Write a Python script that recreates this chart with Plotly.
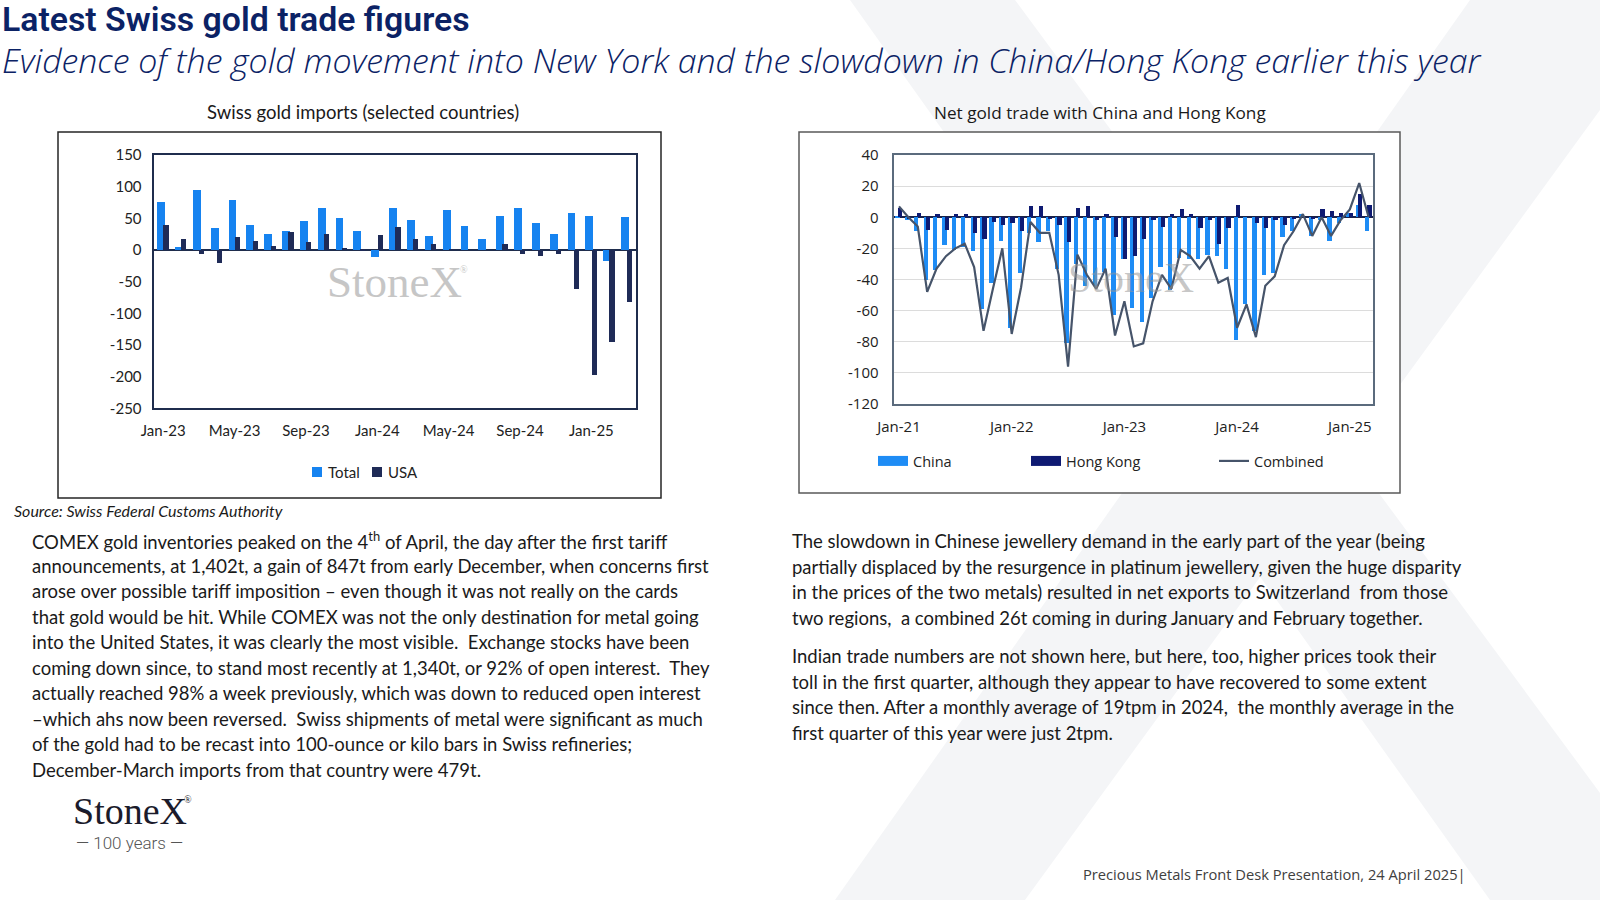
import plotly.graph_objects as go

# ---------------- data ----------------
left_months = ["Jan-23", "Feb-23", "Mar-23", "Apr-23", "May-23", "Jun-23", "Jul-23", "Aug-23", "Sep-23",
               "Oct-23", "Nov-23", "Dec-23", "Jan-24", "Feb-24", "Mar-24", "Apr-24", "May-24", "Jun-24",
               "Jul-24", "Aug-24", "Sep-24", "Oct-24", "Nov-24", "Dec-24", "Jan-25", "Feb-25", "Mar-25"]
total = [75, 5, 95, 34, 79, 39, 26, 30, 46, 67, 50, 30, -11, 66, 47, 22, 63, 38, 18, 54, 67, 42, 26, 59, 54, -17, 52]
usa = [40, 18, -7, -21, 20, 14, 6, 28, 13, 26, 2, -1, 24, 36, 18, 9, 1, 0, 0, 9, -6, -9, -6, -61, -197, -145, -82]
left_ticks = ["Jan-23", "May-23", "Sep-23", "Jan-24", "May-24", "Sep-24", "Jan-25"]
left_yvals = [150, 100, 50, 0, -50, -100, -150, -200, -250]
left_ylabels = ["150", "100", "50", "0", "-50", "-100", "-150", "-200", "-250"]

right_months = ["Jan-21", "Feb-21", "Mar-21", "Apr-21", "May-21", "Jun-21", "Jul-21", "Aug-21", "Sep-21", "Oct-21", "Nov-21", "Dec-21",
                "Jan-22", "Feb-22", "Mar-22", "Apr-22", "May-22", "Jun-22", "Jul-22", "Aug-22", "Sep-22", "Oct-22", "Nov-22", "Dec-22",
                "Jan-23", "Feb-23", "Mar-23", "Apr-23", "May-23", "Jun-23", "Jul-23", "Aug-23", "Sep-23", "Oct-23", "Nov-23", "Dec-23",
                "Jan-24", "Feb-24", "Mar-24", "Apr-24", "May-24", "Jun-24", "Jul-24", "Aug-24", "Sep-24", "Oct-24", "Nov-24", "Dec-24",
                "Jan-25", "Feb-25", "Mar-25"]
china = [1, -2, -9, -40, -34, -18, -21, -19, -22, -59, -42, -15,
         -71, -36, -10, -16, -9, -33, -81, -30, -44, -44, -35, -63,
         -27, -58, -67, -52, -32, -47, -26, -27, -27, -24, -25, -33,
         -79, -56, -73, -37, -36, -13, -9, 2, -12, -2, -15, -4,
         3, 8, -9]
hong_kong = [6, -1, 3, -8, 2, -8, 2, 2, -10, -14, -3, -5,
             -4, -9, 7, 7, -1, -5, -16, 6, 7, -2, 2, -13,
             -27, -25, -14, -2, -6, 2, 5, 2, -7, -2, -17, -7,
             8, 0, -4, -7, -2, -5, -1, 0, -1, 5, 4, 3,
             3, 15, 8]
combined = [7, 0, -6, -48, -33, -25, -20, -17, -32, -73, -46, -20,
            -75, -45, -3, -10, -10, -37, -96, -24, -37, -46, -33, -76,
            -54, -83, -81, -54, -37, -46, -21, -25, -33, -25, -42, -39,
            -71, -56, -77, -44, -38, -18, -9, 2, -12, 0, -12, -2,
            5, 22, 0]
right_ticks = ["Jan-21", "Jan-22", "Jan-23", "Jan-24", "Jan-25"]
right_yvals = [40, 20, 0, -20, -40, -60, -80, -100, -120]
right_ylabels = ["40", "20", "0", "-20", "-40", "-60", "-80", "-100", "-120"]

W, H = 1600, 900
def px(x): return x / W
def py(y): return 1 - y / H

NAVY = "#0b2265"
BODY = "Lato"
C_TOTAL, C_USA = "#1683f0", "#1f2b57"
C_CHINA, C_HK, C_COMB = "#1e8cf5", "#0e1a72", "#46546a"

fig = go.Figure()

# left chart
fig.add_trace(go.Bar(x=left_months, y=total, name="Total", marker_color=C_TOTAL, marker_line_width=0,
                     width=0.44, offset=-0.32, xaxis="x", yaxis="y", showlegend=False))
fig.add_trace(go.Bar(x=left_months, y=usa, name="USA", marker_color=C_USA, marker_line_width=0,
                     width=0.29, offset=0.03, xaxis="x", yaxis="y", showlegend=False))
# right chart
fig.add_trace(go.Bar(x=right_months, y=china, name="China", marker_color=C_CHINA, marker_line_width=0,
                     width=0.45, offset=-0.35, xaxis="x2", yaxis="y2", showlegend=False))
fig.add_trace(go.Bar(x=right_months, y=hong_kong, name="Hong Kong", marker_color=C_HK, marker_line_width=0,
                     width=0.45, offset=-0.10, xaxis="x2", yaxis="y2", showlegend=False))
fig.add_trace(go.Scatter(x=right_months, y=combined, name="Combined", mode="lines",
                         line=dict(color=C_COMB, width=2.2), xaxis="x2", yaxis="y2", legend="legend3"))
# legend swatches (wide rectangles as in the reference)
fig.add_trace(go.Scatter(x=[None], y=[None], name="China", mode="lines", line=dict(color=C_CHINA, width=10),
                         xaxis="x2", yaxis="y2", legend="legend"))
fig.add_trace(go.Scatter(x=[None], y=[None], name="Hong Kong", mode="lines", line=dict(color=C_HK, width=10),
                         xaxis="x2", yaxis="y2", legend="legend2"))

tickfont_l = dict(family=BODY, size=15, color="#222222")
tickfont_r = dict(family="Open Sans", size=15, color="#222222")

def leg(x, y, family, size):
    return dict(orientation="h", x=px(x), xanchor="left", y=py(y), yanchor="middle",
                font=dict(family=family, size=size, color="#222222"), bgcolor="rgba(0,0,0,0)",
                borderwidth=0, itemwidth=30)

fig.update_layout(
    width=W, height=H, margin=dict(l=0, r=0, t=0, b=0, pad=0, autoexpand=False),
    paper_bgcolor="white", plot_bgcolor="white",
    barmode="overlay", bargap=0,
    xaxis=dict(domain=[px(154.3), px(636)], anchor="y", type="category", range=[-0.5, 26.5], automargin=False,
               tickmode="array", tickvals=left_ticks, ticktext=left_ticks, tickfont=tickfont_l,
               showline=True, mirror=True, linecolor="#1f2d4d", linewidth=1.5, showgrid=False,
               ticks="", ticklabelstandoff=8),
    yaxis=dict(domain=[py(408.3), py(155)], anchor="x", range=[-250, 150], automargin=False,
               tickmode="array", tickvals=left_yvals, ticktext=left_ylabels, tickfont=tickfont_l,
               showline=True, mirror=True, linecolor="#1f2d4d", linewidth=1.5, showgrid=False,
               zeroline=True, zerolinecolor="#1f2d4d", zerolinewidth=1.5, ticks="", ticklabelstandoff=8),
    xaxis2=dict(domain=[px(894.3), px(1373.3)], anchor="y2", type="category", range=[-0.5, 50.5], automargin=False,
                tickmode="array", tickvals=right_ticks, ticktext=right_ticks, tickfont=tickfont_r,
                showline=True, mirror=True, linecolor="#5b6b7d", linewidth=1.5, showgrid=False,
                ticks="", ticklabelstandoff=8),
    yaxis2=dict(domain=[py(404), py(155)], anchor="x2", range=[-120, 40], automargin=False,
                tickmode="array", tickvals=right_yvals, ticktext=right_ylabels, tickfont=tickfont_r,
                showline=True, mirror=True, linecolor="#5b6b7d", linewidth=1.5,
                showgrid=True, gridcolor="#dcdcdc", gridwidth=1,
                zeroline=True, zerolinecolor="#1a2348", zerolinewidth=1.5, ticks="", ticklabelstandoff=11),
    legend=leg(873, 461, "Open Sans", 14.5),
    legend2=leg(1026, 461, "Open Sans", 14.5),
    legend3=leg(1214, 461, "Open Sans", 14.5),
    showlegend=True,
)

shapes = []
# faint watermark "X" bands in background
shapes.append(dict(type="path", xref="paper", yref="paper", layer="below", line=dict(width=0),
                   fillcolor="#f4f5f7",
                   path=f"M {px(850)},{py(0)} L {px(1015)},{py(0)} L {px(1620)},{py(820)} L {px(1620)},{py(900)} L {px(1490)},{py(900)} Z"))
shapes.append(dict(type="path", xref="paper", yref="paper", layer="below", line=dict(width=0),
                   fillcolor="#f4f5f7",
                   path=f"M {px(1470)},{py(0)} L {px(1600)},{py(0)} L {px(1600)},{py(110)} L {px(1025)},{py(900)} L {px(835)},{py(900)} Z"))
# chart frames
shapes.append(dict(type="rect", xref="paper", yref="paper", x0=px(58), x1=px(661), y0=py(498), y1=py(132),
                   line=dict(color="#262626", width=1.5), fillcolor="white", layer="below"))
shapes.append(dict(type="rect", xref="paper", yref="paper", x0=px(799), x1=px(1400), y0=py(493), y1=py(132),
                   line=dict(color="#595959", width=1.5), fillcolor="white", layer="below"))
# left chart legend swatches
shapes.append(dict(type="rect", xref="paper", yref="paper", x0=px(312), x1=px(322), y0=py(477), y1=py(467),
                   line=dict(width=0), fillcolor=C_TOTAL))
shapes.append(dict(type="rect", xref="paper", yref="paper", x0=px(372), x1=px(382), y0=py(477), y1=py(467),
                   line=dict(width=0), fillcolor=C_USA))
fig.update_layout(shapes=shapes)

ann = []
def text(x, y, s, size, color="#1a1a1a", family=BODY, xanchor="left", weight=None, style=None):
    f = dict(family=family, size=size, color=color)
    if weight is not None:
        f["weight"] = weight
    if style is not None:
        f["style"] = style
    ann.append(dict(x=px(x), y=py(y), xref="paper", yref="paper", text=s, showarrow=False,
                    xanchor=xanchor, yanchor="middle", font=f))

text(0, 19.5, "Latest Swiss gold trade figures", 33.8, color=NAVY, family="Roboto", weight=600)
text(0, 60.5, "Evidence of the gold movement into New York and the slowdown in China/Hong Kong earlier this year",
     33.9, color=NAVY, family="Open Sans", weight=300, style="italic")
text(363, 112, "Swiss gold imports (selected countries)", 18.5, family=BODY, xanchor="center")
text(1100, 112, "Net gold trade with China and Hong Kong", 17.2, family="Open Sans", xanchor="center")
text(394, 282, "StoneX", 45, color="#c6c6c6", family="Liberation Serif", xanchor="center")
text(464, 269, "®", 10, color="#c6c6c6", family="Liberation Serif", xanchor="center")
text(1131, 278, "StoneX", 42, color="rgba(150,150,150,0.55)", family="Liberation Serif", xanchor="center")
text(12, 510, "Source: Swiss Federal Customs Authority", 16, family=BODY, style="italic")
text(326, 472, "Total", 15, color="#222222")
text(386, 472, "USA", 15, color="#222222")

left_lines = [
    "COMEX gold inventories peaked on the 4<sup>th</sup> of April, the day after the first tariff",
    "announcements, at 1,402t, a gain of 847t from early December, when concerns first",
    "arose over possible tariff imposition – even though it was not really on the cards",
    "that gold would be hit. While COMEX was not the only destination for metal going",
    "into the United States, it was clearly the most visible.  Exchange stocks have been",
    "coming down since, to stand most recently at 1,340t, or 92% of open interest.  They",
    "actually reached 98% a week previously, which was down to reduced open interest",
    "–which ahs now been reversed.  Swiss shipments of metal were significant as much",
    "of the gold had to be recast into 100-ounce or kilo bars in Swiss refineries;",
    "December-March imports from that country were 479t.",
]
for i, s in enumerate(left_lines):
    text(30, 540 + i * 25.5, s, 18.5)

right_lines = [
    (541, "The slowdown in Chinese jewellery demand in the early part of the year (being"),
    (566.5, "partially displaced by the resurgence in platinum jewellery, given the huge disparity"),
    (592, "in the prices of the two metals) resulted in net exports to Switzerland  from those"),
    (617.5, "two regions,  a combined 26t coming in during January and February together."),
    (656, "Indian trade numbers are not shown here, but here, too, higher prices took their"),
    (681.5, "toll in the first quarter, although they appear to have recovered to some extent"),
    (707, "since then. After a monthly average of 19tpm in 2024,  the monthly average in the"),
    (732.5, "first quarter of this year were just 2tpm."),
]
for y, s in right_lines:
    text(790, y, s, 18.5)

text(71, 811, "StoneX", 38, color="#1b1b2b", family="Liberation Serif")
text(188, 799, "®", 10, color="#1b1b2b", family="Liberation Serif", xanchor="center")
text(129, 843, "— 100 years —", 17, color="#555555", family="Roboto", xanchor="center", weight=300)
text(1468, 874, "Precious Metals Front Desk Presentation, 24 April 2025|", 14.7, color="#404040",
     family="Open Sans", xanchor="right")

fig.update_layout(annotations=ann)
fig.write_html("out.html", config={"displayModeBar": False},
               post_script="document.body.style.margin='0px';document.body.style.padding='0px';")
